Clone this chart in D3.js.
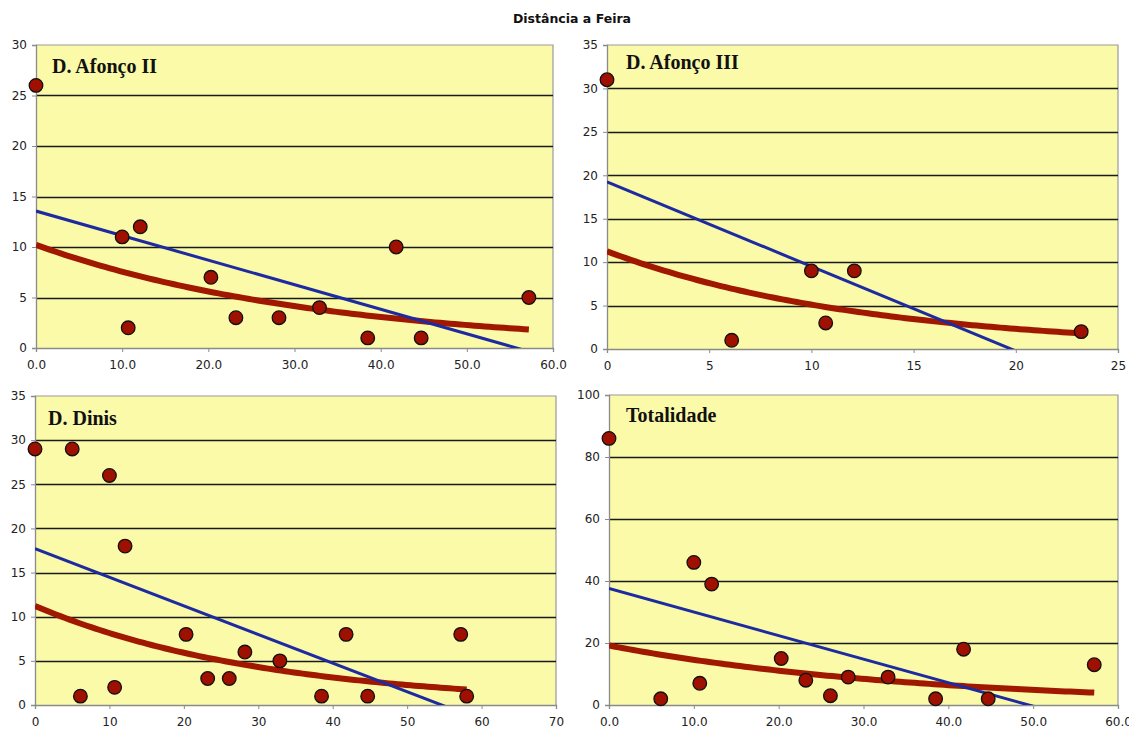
<!DOCTYPE html>
<html>
<head>
<meta charset="utf-8">
<script src="https://cdn.jsdelivr.net/npm/d3@7"></script>
<style>
  html, body { margin: 0; padding: 0; background: #fff; }
  svg { display: block; }
</style>
</head>
<body>
<svg id="chart" width="1129" height="729"></svg>
<script>
// ---------------- DATA ----------------
const chartTitle = "Distância a Feira";
const panelNames = ["D. Afonço II", "D. Afonço III", "D. Dinis", "Totalidade"];

const afonso2X = [0, 10, 10.7, 12.1, 20.3, 23.2, 28.2, 32.9, 38.5, 41.8, 44.7, 57.2];
const afonso2Y = [26, 11, 2, 12, 7, 3, 3, 4, 1, 10, 1, 5];

const afonso3X = [0, 6.1, 10, 10.7, 12.1, 23.2];
const afonso3Y = [31, 1, 9, 3, 9, 2];

const dinisX = [0, 5, 6.1, 10, 10.7, 12.1, 20.3, 23.2, 26.1, 28.2, 32.9, 38.5, 41.8, 44.7, 57.2, 58];
const dinisY = [29, 29, 1, 26, 2, 18, 8, 3, 3, 6, 5, 1, 8, 1, 8, 1];

const totalX = [0, 6.1, 10, 10.7, 12.1, 20.3, 23.2, 26.1, 28.2, 32.9, 38.5, 41.8, 44.7, 57.2];
const totalY = [86, 2, 46, 7, 39, 15, 8, 3, 9, 9, 2, 18, 2, 13];

const xTicks1 = [0, 10, 20, 30, 40, 50, 60];
const xTicks2 = [0, 5, 10, 15, 20, 25];
const xTicks3 = [0, 10, 20, 30, 40, 50, 60, 70];
const xTicks4 = [0, 10, 20, 30, 40, 50, 60];
const yTicks1 = [0, 5, 10, 15, 20, 25, 30];
const yTicks2 = [0, 5, 10, 15, 20, 25, 30, 35];
const yTicks3 = [0, 5, 10, 15, 20, 25, 30, 35];
const yTicks4 = [0, 20, 40, 60, 80, 100];

// ---------------- LAYOUT ----------------
const panels = [
  { name: panelNames[0], xs: afonso2X, ys: afonso2Y, xt: xTicks1, yt: yTicks1, fmt: d3.format(".1f"),
    box: { l: 36, r: 553, t: 45, b: 348 }, lab: { dx: 16, dy: 28 } },
  { name: panelNames[1], xs: afonso3X, ys: afonso3Y, xt: xTicks2, yt: yTicks2, fmt: d3.format("d"),
    box: { l: 607, r: 1118, t: 45, b: 349 }, lab: { dx: 19, dy: 24 } },
  { name: panelNames[2], xs: dinisX, ys: dinisY, xt: xTicks3, yt: yTicks3, fmt: d3.format("d"),
    box: { l: 35, r: 556, t: 396, b: 705 }, lab: { dx: 13, dy: 29 } },
  { name: panelNames[3], xs: totalX, ys: totalY, xt: xTicks4, yt: yTicks4, fmt: d3.format(".1f"),
    box: { l: 609, r: 1118, t: 395, b: 705 }, lab: { dx: 17, dy: 27 } }
];

const svg = d3.select("#chart");
svg.append("rect").attr("width", 1129).attr("height", 729).attr("fill", "#fff");

svg.append("text")
  .attr("x", 572).attr("y", 23)
  .attr("text-anchor", "middle")
  .style("font-family", "'DejaVu Sans', Verdana, sans-serif")
  .style("font-weight", "bold")
  .style("font-size", "12.5px")
  .attr("fill", "#111")
  .text(chartTitle);

function linFit(xs, ys) {
  const mx = d3.mean(xs), my = d3.mean(ys);
  let sxy = 0, sxx = 0;
  xs.forEach((x, i) => { sxy += (x - mx) * (ys[i] - my); sxx += (x - mx) * (x - mx); });
  const m = sxy / sxx;
  return { m, c: my - m * mx };
}

panels.forEach((p, idx) => {
  const B = p.box;
  const xMax = p.xt[p.xt.length - 1], yMax = p.yt[p.yt.length - 1];
  const x = d3.scaleLinear().domain([0, xMax]).range([B.l, B.r]);
  const y = d3.scaleLinear().domain([0, yMax]).range([B.b, B.t]);
  const g = svg.append("g");

  g.append("rect").attr("x", B.l).attr("y", B.t).attr("width", B.r - B.l).attr("height", B.b - B.t)
    .attr("fill", "#FAFAA8");
  g.append("path").attr("d", `M${B.l},${B.t}H${B.r}V${B.b}`)
    .attr("fill", "none").attr("stroke", "#9a9a9a").attr("stroke-width", 1.2);

  g.selectAll(".grid").data(p.yt.filter(v => v > 0 && v < yMax)).enter().append("line")
    .attr("x1", B.l).attr("x2", B.r)
    .attr("y1", d => Math.round(y(d)) + 0.5).attr("y2", d => Math.round(y(d)) + 0.5)
    .attr("stroke", "#1a1a1a").attr("stroke-width", 1.3);

  const xAxis = d3.axisBottom(x).tickValues(p.xt).tickFormat(p.fmt).tickSize(4).tickPadding(8);
  const yAxis = d3.axisLeft(y).tickValues(p.yt).tickFormat(d3.format("d")).tickSize(4).tickPadding(5);
  const gx = g.append("g").attr("transform", `translate(0,${B.b})`).call(xAxis);
  const gy = g.append("g").attr("transform", `translate(${B.l},0)`).call(yAxis);
  [gx, gy].forEach(a => {
    a.select(".domain").attr("stroke", "#8a8a8a").attr("stroke-width", 1.3);
    a.selectAll(".tick line").attr("stroke", "#8a8a8a");
    a.selectAll(".tick text")
      .style("font-family", "'DejaVu Sans', Verdana, sans-serif")
      .style("font-size", "12px").attr("fill", "#222");
  });

  const clipId = "clip" + idx;
  svg.append("clipPath").attr("id", clipId).append("rect")
    .attr("x", B.l).attr("y", B.t).attr("width", B.r - B.l).attr("height", B.b - B.t);

  const xLo = d3.min(p.xs), xHi = d3.max(p.xs);

  // exponential trendline (least squares on ln y)
  const ef = linFit(p.xs, p.ys.map(v => Math.log(v)));
  const expPts = d3.range(0, 101).map(i => {
    const xv = xLo + (xHi - xLo) * i / 100;
    return [xv, Math.exp(ef.c + ef.m * xv)];
  });
  g.append("path").datum(expPts)
    .attr("clip-path", `url(#${clipId})`)
    .attr("d", d3.line().x(d => x(d[0])).y(d => y(d[1])))
    .attr("fill", "none").attr("stroke", "#A01800").attr("stroke-width", 6);

  // linear trendline
  const lf = linFit(p.xs, p.ys);
  g.append("path").datum([[xLo, lf.c + lf.m * xLo], [xHi, lf.c + lf.m * xHi]])
    .attr("clip-path", `url(#${clipId})`)
    .attr("d", d3.line().x(d => x(d[0])).y(d => y(d[1])))
    .attr("fill", "none").attr("stroke", "#1E2BA0").attr("stroke-width", 3);

  g.selectAll(".pt").data(p.xs.map((v, i) => [v, p.ys[i]])).enter().append("circle")
    .attr("cx", d => x(d[0])).attr("cy", d => y(d[1])).attr("r", 6.8)
    .attr("fill", "#A01000").attr("stroke", "#111").attr("stroke-width", 1.3);

  g.append("text")
    .attr("x", B.l + p.lab.dx).attr("y", B.t + p.lab.dy)
    .style("font-family", "'Liberation Serif', 'Times New Roman', serif")
    .style("font-weight", "bold").style("font-size", "20px")
    .attr("fill", "#111")
    .text(p.name);
});
</script>
</body>
</html>
